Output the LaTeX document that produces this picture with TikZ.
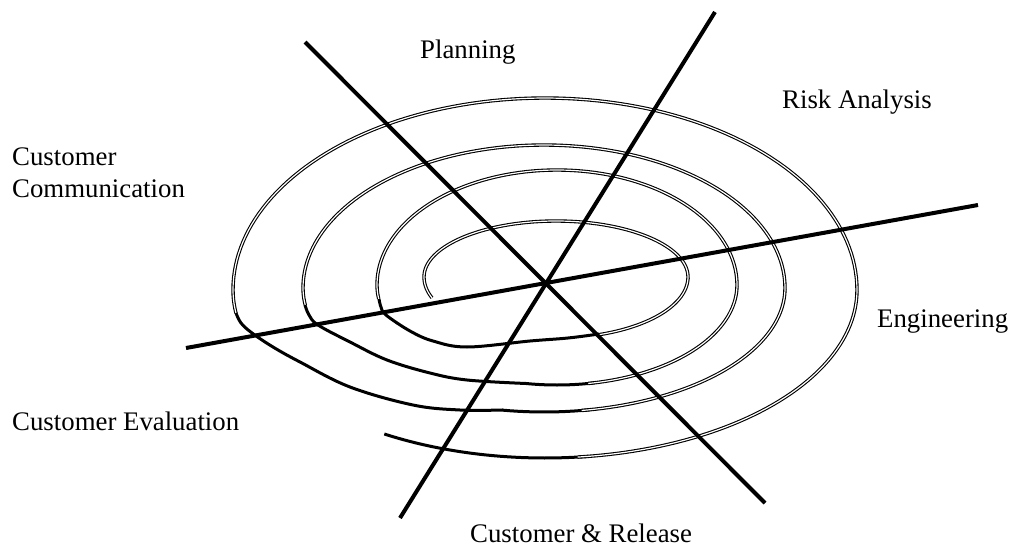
\documentclass[tikz,border=0pt]{standalone}
\usepackage{fontspec}
\setmainfont{Liberation Serif}
\begin{document}
\begin{tikzpicture}[x=1pt,y=-1pt,
  axis/.style={line width=4pt},
  dbl/.style={double, double distance=1.2pt, line width=1.1pt},
  sol/.style={line width=3pt},
  lbl/.style={font=\fontsize{26.8}{30}\selectfont, anchor=base west, inner sep=0pt}]
\useasboundingbox (0,0) rectangle (1013,546);
\fill[white] (0,0) rectangle (1013,546);

% spiral, from the outer free end inwards
% outer turn: centre (545,290), a=312, b up 192, b down 168
\draw[sol] plot[domain=-121:-82, samples=30] ({545+312*cos(\x)},{290-168*sin(\x)});
\draw[dbl] plot[domain=-84:0, samples=50] ({545+312*cos(\x)},{290-168*sin(\x)})
  -- plot[domain=0:180, samples=100] ({545+312*cos(\x)},{290-192*sin(\x)})
  -- plot[domain=180:188, samples=6] ({545+312*cos(\x)},{290-168*sin(\x)});
\draw[sol] plot[smooth, tension=0.6] coordinates {(236,313) (241,323) (252,333) (273,347) (300,362) (350,387) (413,405) (460,410) (502,410)}
  -- plot[domain=-100:-79, samples=12] ({544+241*cos(\x)},{288-124*sin(\x)});
% second turn: centre (544,288), a=241, b up 143, b down 124
\draw[dbl] plot[domain=-81:0, samples=50] ({544+241*cos(\x)},{288-124*sin(\x)})
  -- plot[domain=0:180, samples=100] ({544+241*cos(\x)},{288-143*sin(\x)})
  -- plot[domain=180:188, samples=6] ({544+241*cos(\x)},{288-124*sin(\x)});
\draw[sol] plot[smooth, tension=0.6] coordinates {(305,305) (309,315) (318,325) (350,342) (387,360) (430,373) (467,380) (526,383.5)}
  -- plot[domain=-100:-78, samples=12] ({557+180*cos(\x)},{285-100*sin(\x)});
% third turn: centre (557,285), a=180, b up 115, b down 100
\draw[dbl] plot[domain=-80:0, samples=50] ({557+180*cos(\x)},{285-100*sin(\x)})
  -- plot[domain=0:180, samples=100] ({557+180*cos(\x)},{285-115*sin(\x)})
  -- plot[domain=180:188, samples=6] ({557+180*cos(\x)},{285-100*sin(\x)});
\draw[sol] plot[smooth, tension=0.6] coordinates {(379,299) (381,307) (386,315) (410,331) (433,341) (467,347) (530,341) (568,338) (599,334)};
% inner turn: centre (556,277), a=132, b up 56, b down 61
\draw[dbl] plot[domain=-72:0, samples=40] ({556+132*cos(\x)},{277-61*sin(\x)})
  -- plot[domain=0:180, samples=90] ({556+132*cos(\x)},{277-56*sin(\x)})
  -- plot[domain=180:200, samples=12] ({556+132*cos(\x)},{277-61*sin(\x)});

% axes
\coordinate (a1) at (305,42);  \coordinate (a2) at (765,503);
\coordinate (b1) at (715,12);  \coordinate (b2) at (400,518);
\coordinate (c1) at (186,348); \coordinate (c2) at (978,205);
\draw[axis] (a1) -- (a2);
\draw[axis] (b1) -- (b2);
\draw[axis] (c1) -- (c2);

% labels
\node[lbl] (plan) at (420,58) {Planning};
\node[lbl] (risk) at (782,108) {Risk Analysis};
\node[lbl] (cc1) at (12,165) {Customer};
\node[lbl] (cc2) at (12,197) {Communication};
\node[lbl] (eng) at (877,327) {Engineering};
\node[lbl] (eval) at (12,430) {Customer Evaluation};
\node[lbl] (rel) at (470,542) {Customer \& Release};
\end{tikzpicture}
\end{document}
